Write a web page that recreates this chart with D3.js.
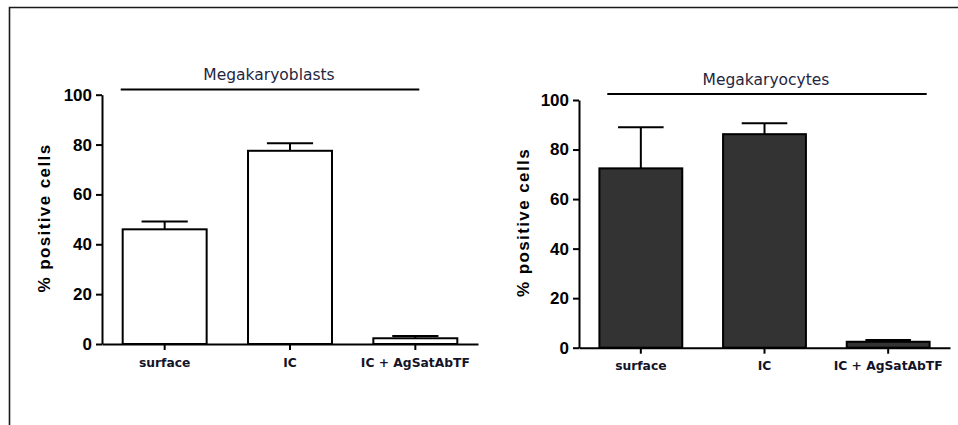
<!DOCTYPE html>
<html>
<head>
<meta charset="utf-8">
<script src="https://cdn.jsdelivr.net/npm/d3@7"></script>
<style>
  html, body { margin: 0; padding: 0; background: #fff; }
  svg { display: block; }
</style>
</head>
<body>
<svg id="chart" width="958" height="425"></svg>
<script>
// ---- Data ----
const categories = ["surface", "IC", "IC + AgSatAbTF"];
const blastTitle = "Megakaryoblasts";
const blastMeans = [46.0, 77.5, 2.3];
const blastErrors = [3.1, 3.0, 0.9];
const cyteTitle = "Megakaryocytes";
const cyteMeans = [72.4, 86.2, 2.4];
const cyteErrors = [16.6, 4.4, 0.7];
const yTicks = [0, 20, 40, 60, 80, 100];
const yLabel = "% positive cells";

// ---- Layout ----
const svg = d3.select("#chart");

// frame lines
svg.append("path")
  .attr("d", "M9.5,425 L9.5,7.5 L958,7.5")
  .attr("fill", "none")
  .attr("stroke", "#1a1a1a")
  .attr("stroke-width", 1.6);

const panels = [
  { title: blastTitle, means: blastMeans, errors: blastErrors,
    x0: 102, x1: 478, y0: 344, y1: 94.7,
    fill: "#ffffff",
    titleX: 269, titleY: 80, lineY: 89.5, lineX0: 120.7, lineX1: 419.3,
    ylabX: 49.5, ylabY: 218 },
  { title: cyteTitle, means: cyteMeans, errors: cyteErrors,
    x0: 579, x1: 950, y0: 347.7, y1: 100,
    fill: "#333333",
    titleX: 766, titleY: 85, lineY: 94, lineX0: 607.3, lineX1: 926.7,
    ylabX: 529, ylabY: 222.5 }
];

panels.forEach(p => {
  const g = svg.append("g");
  const x = d3.scaleBand().domain(categories).range([p.x0, p.x1])
    .paddingInner(0.33).paddingOuter(0.165);
  const y = d3.scaleLinear().domain([0, 100]).range([p.y0, p.y1]);
  const capW = x.bandwidth() * 0.55;

  // bars
  g.selectAll("rect.bar").data(categories).enter().append("rect")
    .attr("class", "bar")
    .attr("x", d => x(d))
    .attr("width", x.bandwidth())
    .attr("y", (d, i) => y(p.means[i]))
    .attr("height", (d, i) => y(0) - y(p.means[i]))
    .attr("fill", p.fill)
    .attr("stroke", "#000")
    .attr("stroke-width", 2);

  // error bars (upper only)
  const eb = g.selectAll("g.err").data(categories).enter().append("g").attr("class", "err");
  eb.append("line")
    .attr("x1", d => x(d) + x.bandwidth() / 2)
    .attr("x2", d => x(d) + x.bandwidth() / 2)
    .attr("y1", (d, i) => y(p.means[i]))
    .attr("y2", (d, i) => y(p.means[i] + p.errors[i]))
    .attr("stroke", "#000").attr("stroke-width", 2);
  eb.append("line")
    .attr("x1", d => x(d) + x.bandwidth() / 2 - capW / 2)
    .attr("x2", d => x(d) + x.bandwidth() / 2 + capW / 2)
    .attr("y1", (d, i) => y(p.means[i] + p.errors[i]))
    .attr("y2", (d, i) => y(p.means[i] + p.errors[i]))
    .attr("stroke", "#000").attr("stroke-width", 2);

  // y axis
  const yAxis = g.append("g")
    .attr("transform", `translate(${p.x0},0)`)
    .call(d3.axisLeft(y).tickValues(yTicks).tickSize(6).tickSizeOuter(0).tickPadding(4));
  yAxis.select(".domain").attr("stroke", "#000").attr("stroke-width", 2);
  yAxis.selectAll(".tick line").attr("stroke", "#000").attr("stroke-width", 2);
  yAxis.selectAll(".tick text")
    .attr("fill", "#000")
    .style("font-family", "'Liberation Sans', Arial, sans-serif")
    .style("font-weight", "bold")
    .style("font-size", "17px");

  // x axis
  const xAxis = g.append("g")
    .attr("transform", `translate(0,${p.y0})`)
    .call(d3.axisBottom(x).tickSize(6).tickSizeOuter(0).tickPadding(8));
  xAxis.select(".domain").attr("stroke", "#000").attr("stroke-width", 2);
  xAxis.selectAll(".tick line").attr("stroke", "#000").attr("stroke-width", 2);
  xAxis.selectAll(".tick text")
    .attr("fill", "#141428")
    .style("font-family", "'DejaVu Sans', Verdana, sans-serif")
    .style("font-weight", "bold")
    .style("font-size", "12.3px");

  // y label
  g.append("text")
    .attr("transform", `translate(${p.ylabX},${p.ylabY}) rotate(-90)`)
    .attr("text-anchor", "middle")
    .attr("fill", "#000")
    .style("font-family", "'Liberation Sans', Arial, sans-serif")
    .style("font-weight", "bold")
    .style("font-size", "17px")
    .style("letter-spacing", "1.4px")
    .text(yLabel);

  // title and line
  g.append("text")
    .attr("x", p.titleX).attr("y", p.titleY)
    .attr("text-anchor", "middle")
    .attr("fill", "#1f2640")
    .style("font-family", "'DejaVu Sans', Verdana, sans-serif")
    .style("font-size", "15.5px")
    .text(p.title);
  g.append("line")
    .attr("x1", p.lineX0).attr("x2", p.lineX1)
    .attr("y1", p.lineY).attr("y2", p.lineY)
    .attr("stroke", "#000").attr("stroke-width", 2.2);
});
</script>
</body>
</html>
